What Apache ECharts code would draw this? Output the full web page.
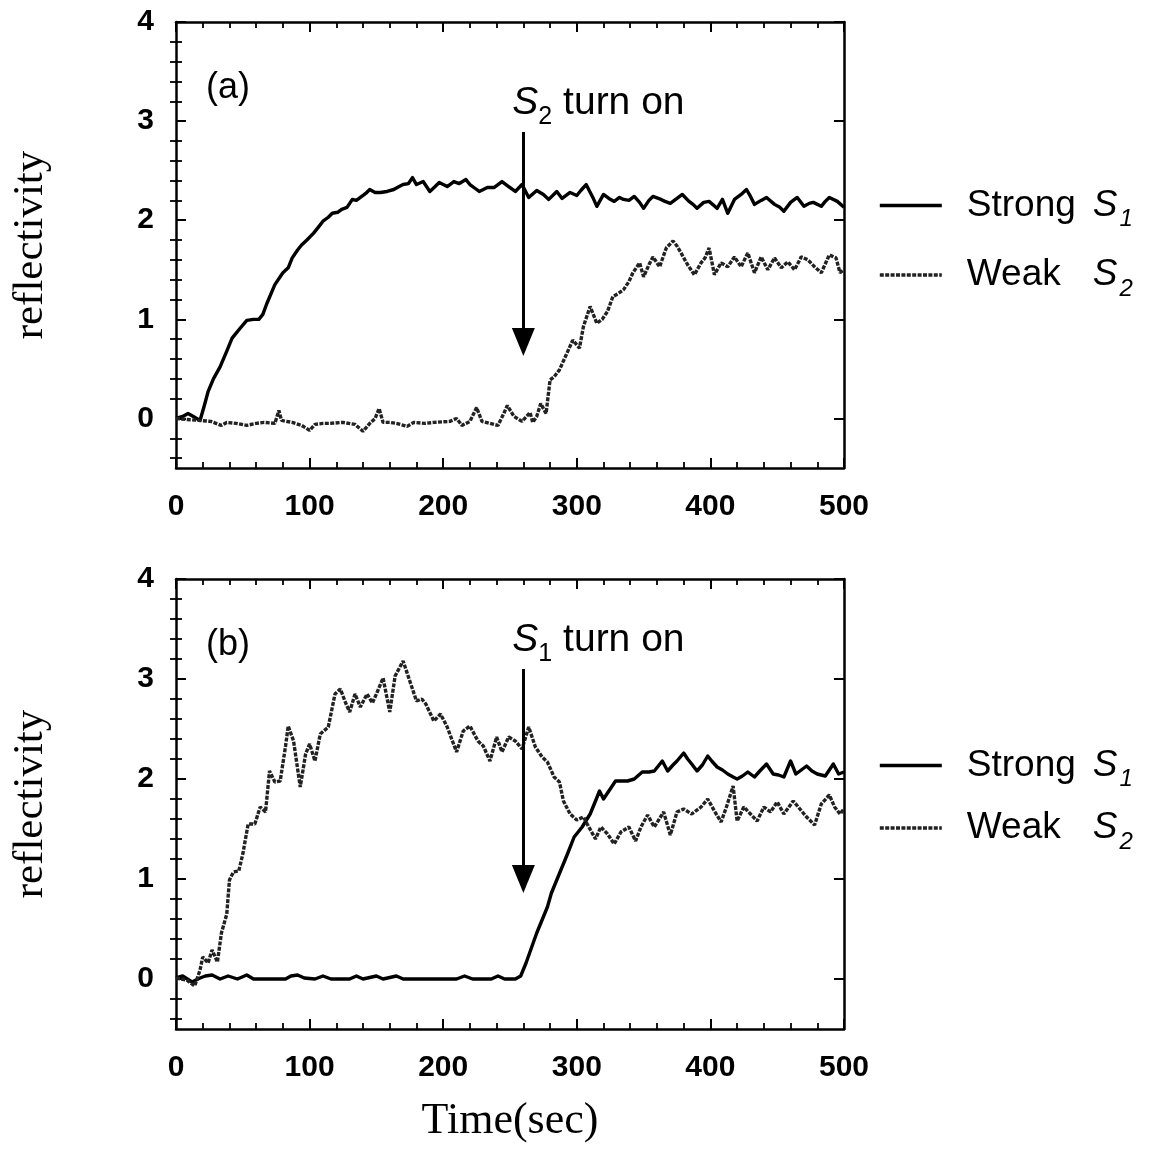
<!DOCTYPE html>
<html>
<head>
<meta charset="utf-8">
<title>Reflectivity vs time</title>
<script src="https://cdn.jsdelivr.net/npm/echarts@6/dist/echarts.min.js"></script>
<style>
  html, body { margin: 0; padding: 0; background: #fff; }
  #chart { width: 1157px; height: 1149px; }
</style>
</head>
<body>
<div id="chart"></div>
<script>
// ---- data: time (sec) vs reflectivity ----

// Panel (a): strong beam S1 on from the start, weak beam S2 switched on at 260 s
const strongA = [
  [0,0.0],[5,0.02],[9,0.05],[13,0.02],[18,-0.02],[21,0.12],[24,0.27],[28,0.4],[33,0.52],[38,0.68],
  [42,0.81],[48,0.91],[53,0.99],[58,1.0],[62,1.0],[65,1.05],[68,1.16],[74,1.35],[80,1.47],[84,1.52],
  [87,1.62],[91,1.7],[94,1.75],[98,1.8],[103,1.87],[106,1.92],[110,1.99],[114,2.03],[117,2.07],[121,2.08],
  [124,2.11],[128,2.13],[132,2.21],[135,2.2],[138,2.23],[142,2.27],[145,2.31],[149,2.28],[153,2.28],[158,2.29],
  [163,2.31],[167,2.34],[170,2.36],[174,2.37],[177,2.43],[180,2.36],[185,2.39],[190,2.29],[194,2.34],[197,2.38],
  [203,2.34],[208,2.39],[212,2.37],[217,2.41],[220,2.36],[224,2.32],[227,2.29],[233,2.33],[238,2.33],[241,2.36],
  [244,2.39],[249,2.34],[254,2.29],[259,2.36],[264,2.23],[270,2.3],[275,2.26],[279,2.21],[285,2.29],[289,2.22],
  [295,2.28],[300,2.25],[303,2.3],[307,2.36],[312,2.23],[315,2.14],[320,2.26],[324,2.22],[328,2.19],[332,2.23],
  [335,2.21],[339,2.2],[343,2.24],[347,2.18],[350,2.12],[354,2.2],[357,2.24],[363,2.21],[366,2.19],[370,2.17],
  [375,2.22],[379,2.26],[384,2.19],[387,2.16],[390,2.12],[395,2.18],[399,2.19],[405,2.12],[409,2.21],[413,2.07],
  [418,2.21],[423,2.26],[427,2.31],[430,2.24],[433,2.16],[438,2.2],[442,2.23],[448,2.16],[452,2.13],[455,2.09],
  [460,2.18],[465,2.23],[470,2.14],[474,2.17],[477,2.18],[483,2.14],[486,2.19],[489,2.23],[495,2.19],[500,2.13]
];
const weakA = [
  [0,0.0],[8,-0.01],[18,-0.02],[26,-0.03],[34,-0.07],[38,-0.04],[45,-0.05],[53,-0.07],[60,-0.05],[66,-0.04],
  [74,-0.05],[77,0.08],[79,-0.02],[87,-0.04],[94,-0.07],[100,-0.12],[104,-0.06],[110,-0.05],[115,-0.05],[125,-0.04],
  [134,-0.06],[140,-0.13],[145,-0.05],[149,0.0],[152,0.1],[155,-0.04],[160,-0.04],[165,-0.05],[173,-0.08],[178,-0.04],
  [186,-0.05],[193,-0.04],[205,-0.03],[210,0.0],[214,-0.07],[220,-0.03],[225,0.11],[229,-0.03],[235,-0.05],[241,-0.07],
  [245,0.04],[248,0.13],[253,0.02],[259,-0.03],[265,0.06],[267,-0.04],[270,0.02],[273,0.15],[277,0.05],[280,0.39],
  [283,0.42],[287,0.49],[292,0.64],[297,0.79],[302,0.71],[305,0.93],[310,1.13],[315,0.96],[319,1.0],[323,1.08],
  [327,1.23],[331,1.26],[335,1.3],[339,1.38],[342,1.47],[347,1.57],[350,1.43],[354,1.55],[357,1.63],[362,1.53],
  [367,1.72],[372,1.79],[375,1.74],[378,1.67],[383,1.55],[388,1.45],[393,1.57],[396,1.62],[399,1.72],[403,1.45],
  [408,1.57],[413,1.53],[418,1.63],[423,1.53],[428,1.67],[433,1.47],[438,1.63],[443,1.5],[448,1.62],[453,1.52],
  [458,1.58],[463,1.5],[468,1.63],[473,1.6],[478,1.53],[483,1.47],[489,1.65],[494,1.62],[497,1.47],[500,1.5]
];

// Panel (b): weak beam S2 on from the start, strong beam S1 switched on at 260 s
const strongB = [
  [0,0.01],[5,0.03],[12,-0.03],[18,0.01],[22,0.03],[27,0.04],[33,0.0],[39,0.03],[46,0.0],[53,0.04],
  [58,0.0],[70,0.0],[82,0.0],[86,0.03],[91,0.04],[96,0.01],[104,0.0],[110,0.03],[116,0.0],[130,0.0],
  [135,0.03],[140,0.0],[150,0.03],[155,0.0],[165,0.03],[170,0.0],[190,0.0],[210,0.0],[216,0.03],[222,0.0],
  [236,0.0],[241,0.03],[246,0.0],[254,0.0],[258,0.03],[262,0.16],[266,0.31],[270,0.46],[274,0.59],[278,0.72],
  [281,0.86],[285,0.99],[289,1.12],[293,1.25],[298,1.42],[304,1.52],[310,1.65],[314,1.78],[317,1.88],[320,1.8],
  [325,1.9],[329,1.98],[334,1.98],[338,1.98],[343,2.0],[349,2.07],[354,2.07],[358,2.08],[364,2.18],[368,2.08],
  [372,2.14],[375,2.18],[380,2.26],[383,2.2],[386,2.15],[390,2.08],[394,2.14],[398,2.23],[401,2.18],[405,2.12],
  [409,2.09],[413,2.05],[417,2.02],[420,2.0],[424,2.03],[428,2.07],[433,2.02],[437,2.08],[442,2.15],[447,2.05],
  [451,2.04],[455,2.02],[460,2.18],[464,2.05],[468,2.09],[472,2.13],[476,2.08],[480,2.05],[486,2.03],[492,2.15],
  [496,2.05],[500,2.07]
];
const weakB = [
  [0,0.01],[8,-0.01],[14,-0.07],[18,0.09],[20,0.22],[24,0.16],[27,0.29],[31,0.17],[34,0.46],[38,0.65],
  [40,0.99],[43,1.07],[47,1.08],[50,1.25],[54,1.55],[59,1.55],[63,1.72],[67,1.67],[70,2.08],[74,1.97],
  [78,1.98],[82,2.33],[84,2.53],[88,2.38],[93,1.92],[97,2.25],[100,2.35],[104,2.18],[108,2.45],[114,2.52],
  [119,2.85],[123,2.9],[127,2.76],[130,2.67],[134,2.85],[138,2.72],[143,2.85],[147,2.76],[150,2.85],[155,3.01],
  [160,2.67],[164,3.03],[170,3.18],[175,2.98],[180,2.78],[184,2.8],[187,2.75],[193,2.58],[198,2.65],[203,2.52],
  [210,2.27],[215,2.48],[220,2.53],[226,2.38],[230,2.33],[235,2.18],[240,2.42],[244,2.27],[249,2.42],[254,2.38],
  [259,2.3],[264,2.52],[269,2.32],[274,2.22],[278,2.17],[283,2.02],[287,1.97],[290,1.78],[295,1.65],[300,1.59],
  [305,1.62],[309,1.52],[314,1.4],[318,1.52],[323,1.45],[328,1.35],[333,1.47],[339,1.52],[344,1.38],[348,1.52],
  [353,1.64],[358,1.52],[365,1.67],[370,1.44],[375,1.67],[380,1.7],[386,1.65],[393,1.72],[398,1.8],[403,1.68],
  [408,1.57],[412,1.72],[417,1.93],[420,1.58],[425,1.72],[430,1.65],[435,1.58],[440,1.72],[445,1.67],[450,1.77],
  [455,1.65],[462,1.78],[467,1.7],[472,1.62],[478,1.54],[483,1.75],[489,1.84],[493,1.72],[497,1.65],[500,1.7]
];

// axis ranges and tick positions
const xRange = [0, 500];
const xStep = 100;
const yRange = [-0.5, 4];
const yMajorTicks = [0, 1, 2, 3, 4];
const yMinorTicks = [];
for (let k = -2; k <= 19; k++) {
  if (k % 5 !== 0) yMinorTicks.push(+(k * 0.2).toFixed(1));
}

// "turn on" arrows: time, top of shaft, tip of head
const arrowA = { t: 260, top: 2.89, tip: 0.63, label: 'S2' };
const arrowB = { t: 260, top: 3.10, tip: 0.86, label: 'S1' };

const panelNames = ['(a)', '(b)'];
const seriesNames = ['Strong S1', 'Weak S2'];

// ---- styling ----
const SANS = '"Liberation Sans", Arial, Helvetica, sans-serif';
const SERIF = '"Liberation Serif", "Times New Roman", serif';
const AXIS_W = 2.5;
const grids = [
  { left: 176, top: 22, width: 668, height: 446 },
  { left: 176, top: 579, width: 668, height: 450 }
];
const HEAD_W = 23, HEAD_H = 28;

function xAxes(g) {
  const base = {
    type: 'value', gridIndex: g, min: xRange[0], max: xRange[1], interval: xStep,
    axisLine: { show: true, onZero: false, lineStyle: { color: '#000', width: AXIS_W } },
    axisTick: { show: true, inside: true, length: 10, lineStyle: { color: '#000', width: 2 } },
    minorTick: { show: true, splitNumber: 5, length: 6, lineStyle: { color: '#000', width: 1.8 } },
    splitLine: { show: false }, minorSplitLine: { show: false }
  };
  const bottom = Object.assign({}, base, {
    position: 'bottom',
    axisLabel: { show: true, margin: 24, color: '#000', fontFamily: SANS, fontWeight: 'bold', fontSize: 30 }
  });
  if (g === 1) {
    bottom.name = 'Time(sec)';
    bottom.nameLocation = 'middle';
    bottom.nameGap = 70;
    bottom.nameTextStyle = { fontFamily: SERIF, fontSize: 44, color: '#000' };
  }
  const top = Object.assign({}, base, { position: 'top', axisLabel: { show: false } });
  return [bottom, top];
}

function yAxes(g) {
  const line = { show: true, onZero: false, lineStyle: { color: '#000', width: AXIS_W } };
  const common = { type: 'value', gridIndex: g, min: yRange[0], max: yRange[1], splitLine: { show: false } };
  const majorTick = { show: true, inside: true, length: 10, customValues: yMajorTicks, lineStyle: { color: '#000', width: 2 } };
  const minorTick = { show: true, inside: true, length: 6, customValues: yMinorTicks, lineStyle: { color: '#000', width: 1.8 } };
  return [
    Object.assign({}, common, {
      position: 'left', axisLine: line, axisTick: majorTick,
      axisLabel: { show: true, customValues: yMajorTicks, margin: 22, color: '#000', fontFamily: SANS, fontWeight: 'bold', fontSize: 30 },
      name: 'reflectivity', nameLocation: 'middle', nameGap: 124, nameRotate: 90,
      nameTextStyle: { fontFamily: SERIF, fontSize: 43, color: '#000' }
    }),
    Object.assign({}, common, { position: 'left', axisLine: { show: false }, axisTick: minorTick, axisLabel: { show: false } }),
    Object.assign({}, common, { position: 'right', axisLine: line, axisTick: majorTick, axisLabel: { show: false } }),
    Object.assign({}, common, { position: 'right', axisLine: { show: false }, axisTick: minorTick, axisLabel: { show: false } })
  ];
}

function arrowLine(a, unitPx) {
  // the head symbol is centred on the line end, so stop the shaft half a head short of the tip
  const end = a.tip + (HEAD_H / 2) / unitPx;
  return {
    silent: true, animation: false,
    symbol: ['none', 'triangle'],
    label: { show: false },
    lineStyle: { color: '#000', width: 3, type: 'solid' },
    emphasis: { disabled: true },
    data: [[
      { coord: [a.t, a.top], symbol: 'none' },
      { coord: [a.t, end], symbol: 'triangle', symbolSize: [HEAD_W, HEAD_H] }
    ]]
  };
}

function panelSeries(g, strong, weak, arrow) {
  const unitPx = grids[g].height / (yRange[1] - yRange[0]);
  return [
    {
      name: seriesNames[0], type: 'line', xAxisIndex: 2 * g, yAxisIndex: 4 * g,
      data: strong, symbol: 'none', smooth: false,
      lineStyle: { color: '#000', width: 3.4, join: 'round' },
      itemStyle: { color: '#000' },
      markLine: arrowLine(arrow, unitPx)
    },
    {
      name: seriesNames[1], type: 'line', xAxisIndex: 2 * g, yAxisIndex: 4 * g,
      data: weak, symbol: 'none', smooth: false,
      lineStyle: { color: '#222', width: 3.4, type: [4, 1.4] },
      itemStyle: { color: '#222' }
    }
  ];
}

const legendRich = {
  sp: { width: 20 },
  n: { fontFamily: SANS, fontSize: 37, color: '#000', width: 126 },
  s: { fontFamily: SANS, fontSize: 37, fontStyle: 'italic', color: '#000' },
  sub: { fontFamily: SANS, fontSize: 24, fontStyle: 'italic', color: '#000', padding: [28, 0, 0, 2] }
};
function legendFormatter(name) {
  const parts = name.split(' ');
  const sym = parts[1];
  return '{sp|}{n|' + parts[0] + '}{s|' + sym.charAt(0) + '}{sub|' + sym.slice(1) + '}';
}
function legend(top, gap) {
  return {
    orient: 'vertical', left: 873, top: top, itemWidth: 62, itemHeight: 14, itemGap: gap,
    data: seriesNames, formatter: legendFormatter, selectedMode: false,
    itemStyle: { opacity: 0 },
    lineStyle: { width: 3.6 },
    textStyle: { rich: legendRich }
  };
}

const chart = echarts.init(document.getElementById('chart'), null, { renderer: 'canvas' });
chart.setOption({
  animation: false,
  backgroundColor: '#fff',
  grid: grids,
  xAxis: xAxes(0).concat(xAxes(1)),
  yAxis: yAxes(0).concat(yAxes(1)),
  legend: [legend(182, 25), legend(742, 18)],
  series: panelSeries(0, strongA, weakA, arrowA).concat(panelSeries(1, strongB, weakB, arrowB))
});

// annotation texts placed through the axes
function turnOnText(g, a) {
  const p = chart.convertToPixel({ gridIndex: g }, [a.t, a.top]);
  return {
    type: 'text', x: p[0] - 11, y: p[1] - 29,
    style: {
      text: '{s|' + a.label.charAt(0) + '}{sub|' + a.label.slice(1) + '}{t| turn on}',
      verticalAlign: 'middle', align: 'left',
      rich: {
        s: { fontFamily: SANS, fontSize: 39, fontStyle: 'italic', fill: '#000' },
        sub: { fontFamily: SANS, fontSize: 25, fill: '#000', padding: [28, 0, 0, 0] },
        t: { fontFamily: SANS, fontSize: 39, fill: '#000' }
      }
    }
  };
}
function panelTag(g) {
  const gr = grids[g];
  return {
    type: 'text', x: gr.left + 30, y: gr.top + 66,
    style: { text: panelNames[g], fontFamily: SANS, fontSize: 36, fill: '#000', verticalAlign: 'middle' }
  };
}
chart.setOption({
  graphic: [panelTag(0), panelTag(1), turnOnText(0, arrowA), turnOnText(1, arrowB)]
});
</script>
</body>
</html>
